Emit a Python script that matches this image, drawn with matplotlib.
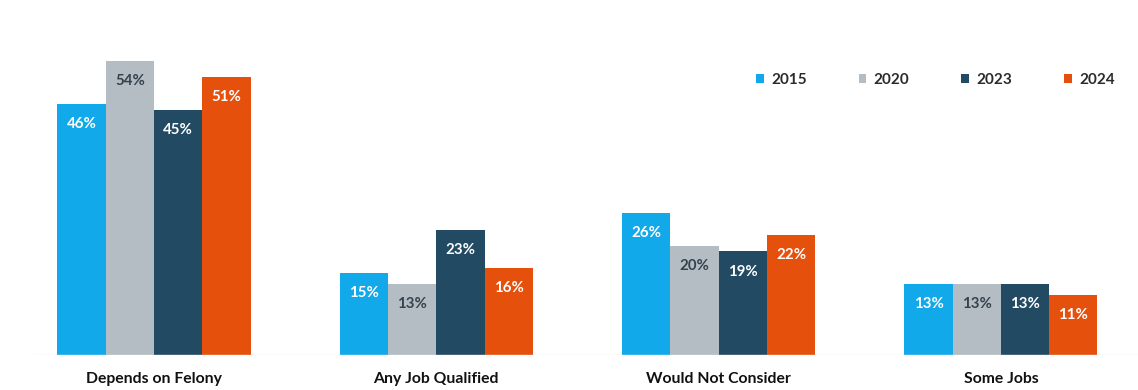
import matplotlib
matplotlib.use("Agg")
import matplotlib.pyplot as plt
from matplotlib.patches import Patch
import numpy as np

plt.rcParams['font.family'] = ['Lato', 'DejaVu Sans']

# Survey responses by year (percent)
categories = ["Depends on Felony", "Any Job Qualified", "Would Not Consider", "Some Jobs"]
years = ["2015", "2020", "2023", "2024"]
values_2015 = [46, 15, 26, 13]
values_2020 = [54, 13, 20, 13]
values_2023 = [45, 23, 19, 13]
values_2024 = [51, 16, 22, 11]

series = [values_2015, values_2020, values_2023, values_2024]
colors = ["#12A9EA", "#B3BDC3", "#234A63", "#E5500C"]
label_colors = ["white", "#34434E", "white", "white"]

W, H, DPI = 1138, 390, 100
fig = plt.figure(figsize=(W / DPI, H / DPI), dpi=DPI)
fig.patch.set_facecolor("white")

base_px = 355
top_px = 28
ax = fig.add_axes([0, (H - base_px) / H, 1, (base_px - top_px) / H])
ax.set_facecolor("none")

group_px = 282.3
x = np.arange(len(categories))
bar_w = 0.171
offsets = (np.arange(len(years)) - 1.5) * bar_w

for vals, off, col, lc, yr in zip(series, offsets, colors, label_colors, years):
    bars = ax.bar(x + off, vals, width=bar_w, color=col, label=yr, linewidth=0)
    for rect, v in zip(bars, vals):
        ax.annotate(f"{v}%", (rect.get_x() + rect.get_width() / 2, v),
                    xytext=(0, -14.5), textcoords="offset points",
                    ha="center", va="center", color=lc,
                    fontsize=10.8, fontweight="bold")

ax.set_xlim((0 - 154) / group_px, (W - 154) / group_px)
ax.set_ylim(0, 60)
ax.axis("off")

# faint baseline
ax.axhline(0, xmin=0.03, xmax=1, color="#E6E6E6", linewidth=1)

# category names below the groups
for xi, cat in zip(x, categories):
    ax.annotate(cat, (xi, 0), xytext=(0, -17.5), textcoords="offset points",
                ha="center", va="center", color="#111111",
                fontsize=11.3, fontweight="bold")

handles = [Patch(facecolor=c, edgecolor="none") for c in colors]
fig.legend(handles, years, loc="center left",
           bbox_to_anchor=(756 / W, (H - 80) / H),
           ncol=4, frameon=False, borderpad=0, borderaxespad=0,
           handlelength=0.5, handleheight=0.5, handletextpad=0.5,
           columnspacing=3.38,
           prop={"family": ["Lato", "DejaVu Sans"], "weight": "bold", "size": 11},
           labelcolor="#2B2B2B")

fig.savefig("out.png", dpi=DPI, facecolor="white")
